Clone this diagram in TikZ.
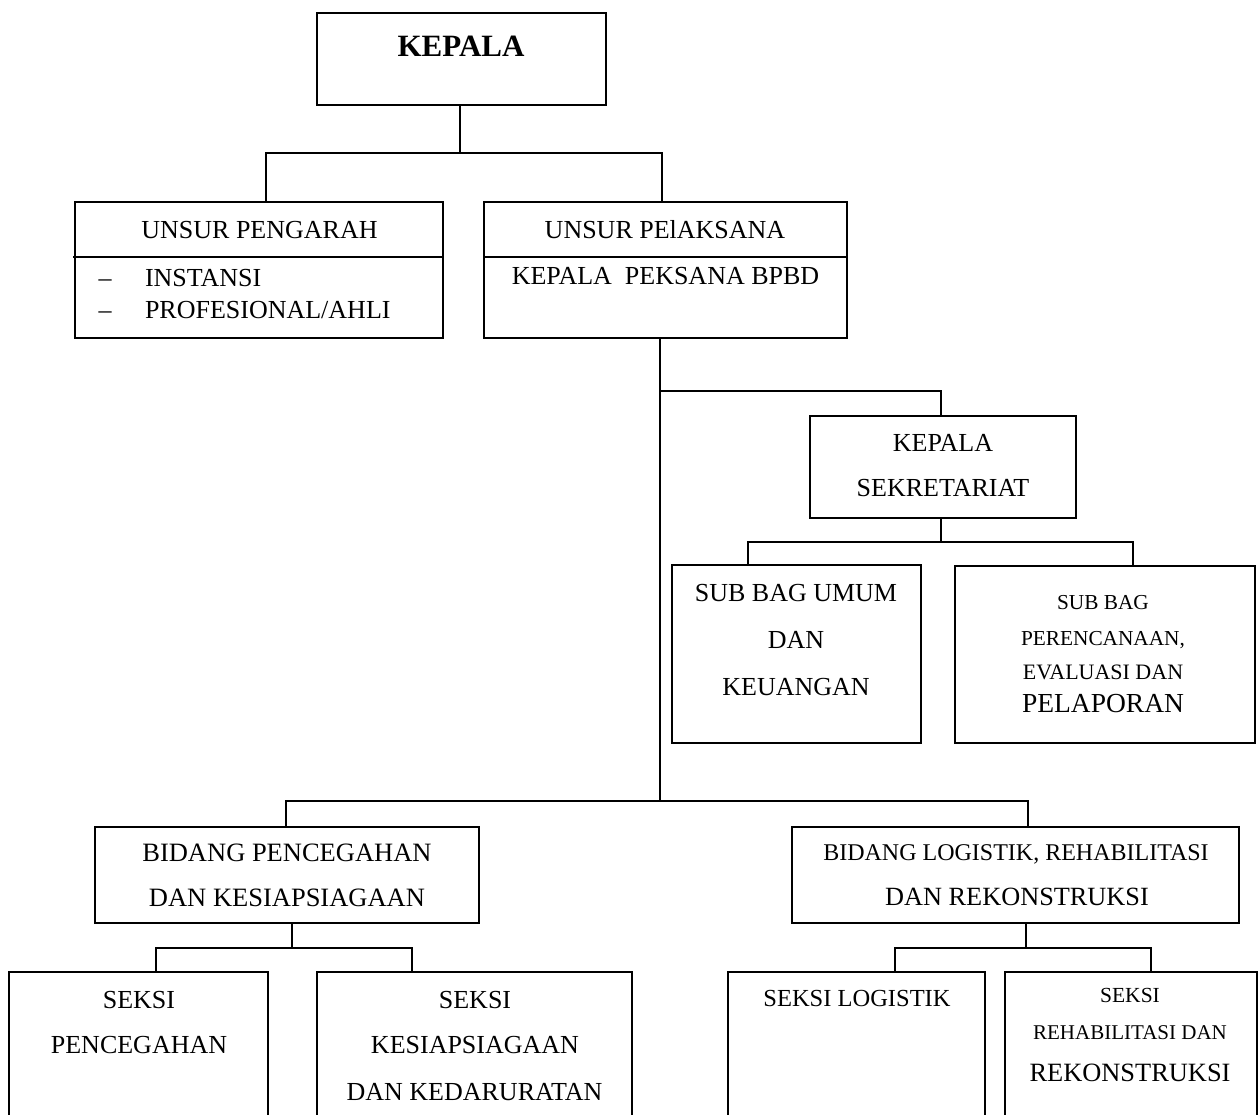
\documentclass[tikz,border=0pt]{standalone}
\usepackage{fontspec}
\setmainfont{Liberation Serif}
\usetikzlibrary{calc}
\newcommand{\fsz}[1]{\fontsize{#1}{#1}\selectfont}
\tikzset{
  box/.style={draw, line width=1.8pt, inner sep=0pt, outer sep=0pt, rectangle},
  conn/.style={line width=1.8pt},
  txt/.style={anchor=base, inner sep=0pt, outer sep=0pt},
}
\begin{document}
\begin{tikzpicture}[x=1pt,y=-1pt]
\fill[white] (0,0) rectangle (1260,1115);
\useasboundingbox (0,0) rectangle (1260,1115);
\begin{scope}
\clip (0,0) rectangle (1260,1115);

% boxes
\node[box, minimum width=289pt, minimum height=92pt] (kepala) at (461.5,59) {};
\node[box, minimum width=368pt, minimum height=136pt] (up) at (259,270) {};
\node[box, minimum width=363pt, minimum height=136pt] (upel) at (665.5,270) {};
\node[box, minimum width=266pt, minimum height=102pt] (ks) at (943,467) {};
\node[box, minimum width=249pt, minimum height=178pt] (sbu) at (796.5,654) {};
\node[box, minimum width=300pt, minimum height=177pt] (sbp) at (1105,654.5) {};
\node[box, minimum width=384pt, minimum height=96pt] (bp) at (287,875) {};
\node[box, minimum width=447pt, minimum height=96pt] (bl) at (1015.5,875) {};
\node[box, minimum width=259pt, minimum height=154pt] (sp) at (138.5,1049) {};
\node[box, minimum width=315pt, minimum height=154pt] (sk) at (474.5,1049) {};
\node[box, minimum width=257pt, minimum height=154pt] (sl) at (856.5,1049) {};
\node[box, minimum width=252pt, minimum height=154pt] (sr) at (1131,1049) {};

% dividers
\draw[conn] ($(up.west)+(-2,-13)$) -- ($(up.east)+(0,-13)$);
\draw[conn] ($(upel.west)+(0,-13)$) -- ($(upel.east)+(0,-13)$);

% connectors
\draw[conn] ($(kepala.south)+(-1.5,0)$) -- ++(0,48);
\draw[conn] ($(up.north)+(7,0)$) -- ++(0,-49) -| ($(upel.north)+(-3.5,0)$);
\draw[conn] ($(upel.south)+(-5.5,0)$) -- ++(0,463);
\draw[conn] ($(bp.north)+(-1,0)$) -- ++(0,-26) -| ($(bl.north)+(12.5,0)$);
\draw[conn] ($(upel.south)+(-5.5,53)$) -| ($(ks.north)+(-2,0)$);
\draw[conn] ($(ks.south)+(-2,0)$) -- ++(0,24);
\draw[conn] ($(sbu.north)+(-48.5,0)$) -- ++(0,-23) -| ($(sbp.north)+(28,0)$);
\draw[conn] ($(bp.south)+(5,0)$) -- ++(0,25);
\draw[conn] ($(sp.north)+(17.5,0)$) -- ++(0,-24) -| ($(sk.north)+(-62.5,0)$);
\draw[conn] ($(bl.south)+(10.5,0)$) -- ++(0,25);
\draw[conn] ($(sl.north)+(38.5,0)$) -- ++(0,-24) -| ($(sr.north)+(20,0)$);
\end{scope}

% texts
\node[txt, font=\fsz{31}\bfseries] (t-kepala) at (461,57) {KEPALA};

\node[txt, font=\fsz{26}] (t-up) at (259.5,238.6) {UNSUR PENGARAH};
\node[txt, font=\fsz{26}] (t-d1) at (105,286.6) {–};
\node[txt, font=\fsz{26}, anchor=base west] (t-inst) at (145,286.6) {INSTANSI};
\node[txt, font=\fsz{26}] (t-d2) at (105,318.6) {–};
\node[txt, font=\fsz{26}, anchor=base west] (t-prof) at (145,318.6) {PROFESIONAL/AHLI};

\node[txt, font=\fsz{26}] (t-upel) at (665,238.6) {UNSUR PElAKSANA};
\node[txt, font=\fsz{26}] (t-kpb) at (665.5,284.6) {KEPALA\ \ PEKSANA BPBD};

\node[txt, font=\fsz{26}] (t-ks1) at (943,451.6) {KEPALA};
\node[txt, font=\fsz{26}] (t-ks2) at (943,496.6) {SEKRETARIAT};

\node[txt, font=\fsz{26}] (t-sbu1) at (796,601.6) {SUB BAG UMUM};
\node[txt, font=\fsz{26}] (t-sbu2) at (796,648.6) {DAN};
\node[txt, font=\fsz{26}] (t-sbu3) at (796,695.6) {KEUANGAN};

\node[txt, font=\fsz{21.3}] (t-sbp1) at (1103,609) {SUB BAG};
\node[txt, font=\fsz{21.3}] (t-sbp2) at (1103,645) {PERENCANAAN,};
\node[txt, font=\fsz{22}] (t-sbp3) at (1103,679.3) {EVALUASI DAN};
\node[txt, font=\fsz{27.5}] (t-sbp4) at (1103,712) {PELAPORAN};

\node[txt, font=\fsz{26.5}] (t-bp1) at (287,861.6) {BIDANG PENCEGAHAN};
\node[txt, font=\fsz{26.5}] (t-bp2) at (287,906.6) {DAN KESIAPSIAGAAN};

\node[txt, font=\fsz{24}] (t-bl1) at (1016,860.6) {BIDANG LOGISTIK, REHABILITASI};
\node[txt, font=\fsz{26.3}] (t-bl2) at (1017,905.6) {DAN REKONSTRUKSI};

\node[txt, font=\fsz{26}] (t-sp1) at (139,1008.6) {SEKSI};
\node[txt, font=\fsz{26}] (t-sp2) at (139,1053.6) {PENCEGAHAN};

\node[txt, font=\fsz{26}] (t-sk1) at (475,1008.6) {SEKSI};
\node[txt, font=\fsz{26}] (t-sk2) at (475,1053.6) {KESIAPSIAGAAN};
\node[txt, font=\fsz{26}] (t-sk3) at (474.5,1100.6) {DAN KEDARURATAN};

\node[txt, font=\fsz{24.5}] (t-sl) at (857,1006) {SEKSI LOGISTIK};

\node[txt, font=\fsz{21.5}] (t-sr1) at (1130,1002) {SEKSI};
\node[txt, font=\fsz{21}] (t-sr2) at (1130,1039) {REHABILITASI DAN};
\node[txt, font=\fsz{26.4}] (t-sr3) at (1130,1081.7) {REKONSTRUKSI};
\end{tikzpicture}
\end{document}
